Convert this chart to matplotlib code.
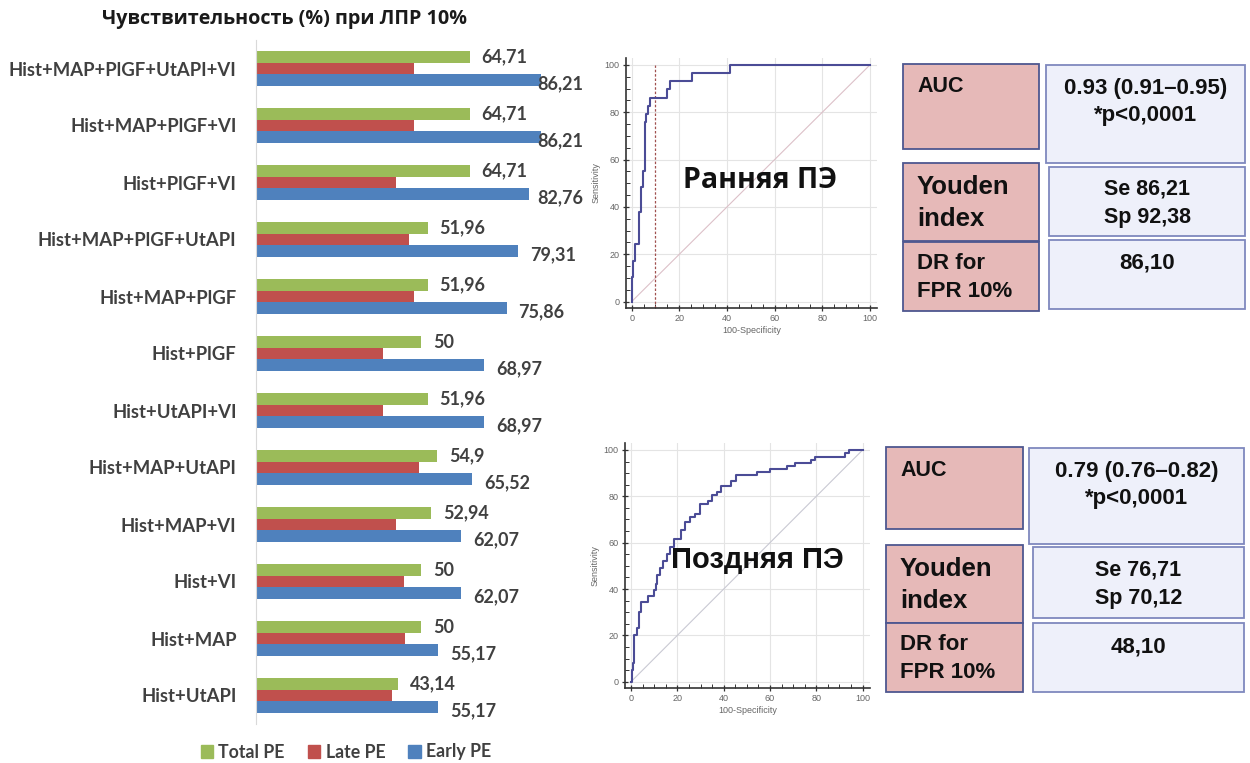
import matplotlib.pyplot as plt
from matplotlib.patches import Rectangle
from matplotlib.ticker import MultipleLocator
import matplotlib.transforms as mtransforms

W, H = 1250, 763

# --- bar chart data (sensitivity at FPR 10%) ---
models = ["Hist+MAP+PlGF+UtAPI+VI", "Hist+MAP+PlGF+VI", "Hist+PlGF+VI",
          "Hist+MAP+PlGF+UtAPI", "Hist+MAP+PlGF", "Hist+PlGF", "Hist+UtAPI+VI",
          "Hist+MAP+UtAPI", "Hist+MAP+VI", "Hist+VI", "Hist+MAP", "Hist+UtAPI"]
total_pe = [64.71, 64.71, 64.71, 51.96, 51.96, 50, 51.96, 54.9, 52.94, 50, 50, 43.14]
late_pe = [47.9, 47.9, 42.3, 46.3, 47.9, 38.3, 38.3, 49.2, 42.3, 44.7, 45.2, 41.2]
early_pe = [86.21, 86.21, 82.76, 79.31, 75.86, 68.97, 68.97, 65.52, 62.07, 62.07, 55.17, 55.17]

# --- ROC curves (100-Specificity, Sensitivity) ---
early_fpr = [0, 0, 0.5, 1.2, 3.0, 3.8, 4.8, 5.4, 6.0, 7.0, 7.6, 14.8, 16.3, 25.4, 41.4, 100]
early_tpr = [0, 10.34, 17.24, 24.14, 37.93, 48.28, 55.17, 75.86, 79.31, 82.76, 86.21,
             89.66, 93.10, 96.55, 100, 100]
late_fpr = [0, 0.5, 1.0, 1.4, 2.4, 3.3, 4.2, 7.2, 10.0, 10.8, 11.4, 12.5, 14.0, 15.7,
            16.8, 18.7, 21.6, 23.3, 25.5, 27.6, 29.8, 33.4, 34.8, 37.0, 38.8, 43.0,
            45.3, 54.2, 60.0, 67.2, 70.8, 77.6, 79.4, 92.4, 94.2, 100]
late_tpr = [0, 5, 8, 20, 23, 30, 34.5, 37, 39.5, 42, 46, 49, 52, 55, 58, 61.5, 65.5,
            69, 71, 72.5, 76.5, 78, 80.5, 82, 84.6, 86.5, 89, 90.5, 91.8, 93, 94.2,
            95.6, 97, 98.5, 100, 100]
diag = [0, 100]
fpr_cut = 10

# --- tables ---
row_names = ["AUC", "Youden\nindex", "DR for\nFPR 10%"]
early_vals = ["0.93 (0.91–0.95)\n*p<0,0001", "Se 86,21\nSp 92,38", "86,10"]
late_vals = ["0.79 (0.76–0.82)\n*p<0,0001", "Se 76,71\nSp 70,12", "48,10"]

GREEN, RED, BLUE = "#9BBB59", "#C0504D", "#4F81BD"
GREY_TXT = "#404040"
CAL = ["Lato", "DejaVu Sans"]
CYR = ["Open Sans", "DejaVu Sans"]
ARIAL = ["Liberation Sans", "DejaVu Sans"]


def box(x0, y0, x1, y1):
    return [x0 / W, 1 - y1 / H, (x1 - x0) / W, (y1 - y0) / H]


fig = plt.figure(figsize=(W / 100, H / 100), dpi=100)

# ================= bar chart =================
ax = fig.add_axes(box(256, 40, 583, 724))
y = list(range(len(models)))
h = 0.2
ax.barh([v - h for v in y], total_pe, height=h, color=GREEN, label="Total PE")
ax.barh(y, late_pe, height=h, color=RED, label="Late PE")
ax.barh([v + h for v in y], early_pe, height=h, color=BLUE, label="Early PE")
xmax = 99
ax.set_xlim(0, xmax)
ax.set_ylim(len(models) - 0.5, -0.5)
for s in ["top", "right", "bottom"]:
    ax.spines[s].set_visible(False)
ax.spines["left"].set_color("#D9D9D9")
ax.set_xticks([])
ax.set_yticks(y)
ax.set_yticklabels(models, fontfamily=CAL, fontweight="bold", fontsize=13.3, color=GREY_TXT)
ax.tick_params(axis="y", length=0, pad=14)

blend = mtransforms.blended_transform_factory(ax.transAxes, ax.transData)
for i in y:
    for val, yy in [(total_pe[i], i - h), (early_pe[i], i + h + 0.06)]:
        txt = f"{val:g}".replace(".", ",")
        if val + 17.5 > xmax:
            ax.text(1.0, yy, txt, transform=blend, ha="right", va="center",
                    fontfamily=CAL, fontweight="bold", fontsize=13, color=GREY_TXT)
        else:
            ax.annotate(txt, (val, yy), xytext=(8.6, 0), textcoords="offset points",
                        ha="left", va="center", fontfamily=CAL, fontweight="bold",
                        fontsize=13, color=GREY_TXT)

fig.text(284 / W, 1 - 19 / H, "Чувствительность (%) при ЛПР 10%", ha="center", va="center",
         fontfamily=CYR, fontweight="bold", fontsize=14.2, color="#1a1a1a")

handles = [Rectangle((0, 0), 1, 1, color=c) for c in (GREEN, RED, BLUE)]
fig.legend(handles, ["Total PE", "Late PE", "Early PE"], loc="center",
           bbox_to_anchor=(346 / W, 1 - 752 / H), ncol=3, frameon=False,
           handlelength=0.7, handleheight=0.7, handletextpad=0.3, columnspacing=1.3,
           prop={"family": CAL, "weight": "bold", "size": 12.8}, labelcolor=GREY_TXT)


# ================= ROC plots =================
def roc(rect, xlo, fpr, tpr, diag_color, cut=None):
    a = fig.add_axes(rect)
    a.set_xlim(xlo, 103)
    a.set_ylim(-2.7, 103)
    a.plot(diag, diag, color=diag_color, lw=0.8, zorder=2)
    if cut is not None:
        a.axvline(cut, ymax=(100 + 2.7) / 105.7, color="#A0504F", lw=0.9, ls=(0, (2, 1.5)), zorder=2)
    a.plot(fpr, tpr, drawstyle="steps-post", color="#4B4C96", lw=1.5, zorder=3)
    a.xaxis.set_minor_locator(MultipleLocator(5))
    a.yaxis.set_minor_locator(MultipleLocator(5))
    a.set_xticks([0, 20, 40, 60, 80, 100])
    a.set_yticks([0, 20, 40, 60, 80, 100])
    a.grid(True, which="major", color="#E4E4E4", lw=0.8)
    a.set_axisbelow(True)
    for s in ["top", "right"]:
        a.spines[s].set_visible(False)
    for s in ["left", "bottom"]:
        a.spines[s].set_color("#333333")
        a.spines[s].set_linewidth(1.2)
    a.tick_params(which="major", direction="inout", length=5, width=0.9, color="#333333",
                  labelsize=6.5, labelcolor="#666666", pad=2)
    a.tick_params(which="minor", direction="in", length=3, width=0.7, color="#333333")
    for lab in a.get_xticklabels() + a.get_yticklabels():
        lab.set_fontfamily(ARIAL)
    a.set_xlabel("100-Specificity", fontsize=6.5, color="#666666", fontfamily=ARIAL, labelpad=2)
    a.set_ylabel("Sensitivity", fontsize=6.5, color="#666666", fontfamily=ARIAL, labelpad=3)
    return a


roc(box(625.7, 57.9, 877, 308), -2.5, early_fpr, early_tpr, "#DCC0C8", cut=fpr_cut)
roc(box(625, 443, 869.6, 688), -2.6, late_fpr, late_tpr, "#C9C9D3")

fig.text(760 / W, 1 - 181 / H, "Ранняя ПЭ", ha="center", va="center",
         fontfamily=CYR, fontweight="bold", fontsize=20.5, color="#111111")
fig.text(757 / W, 1 - 560 / H, "Поздняя ПЭ", ha="center", va="center",
         fontfamily=ARIAL, fontweight="bold", fontsize=21, color="#111111")

# ================= tables =================
ov = fig.add_axes([0, 0, 1, 1])
ov.set_xlim(0, W)
ov.set_ylim(H, 0)
ov.axis("off")
ov.patch.set_alpha(0)

tables = [
    {"left": [(903, 64, 1039, 149), (903, 163, 1039, 241), (903, 242, 1039, 311)],
     "right": [(1046, 65, 1245, 163), (1049, 167, 1245, 236), (1049, 240, 1245, 309)],
     "vals": early_vals},
    {"left": [(886, 447, 1023, 529), (886, 545, 1023, 623), (886, 623, 1023, 692)],
     "right": [(1029, 448, 1244, 544), (1033, 547, 1244, 618), (1033, 623, 1244, 692)],
     "vals": late_vals},
]
name_sizes = [15.5, 18.5, 16]
for t in tables:
    for k, (x0, y0, x1, y1) in enumerate(t["left"]):
        ov.add_patch(Rectangle((x0, y0), x1 - x0, y1 - y0, facecolor="#E6B9B8",
                               edgecolor="#4E5790", lw=1.3))
        if k == 0:
            ov.text(x0 + 14, y0 + 23, row_names[k], ha="left", va="center", fontfamily=ARIAL,
                    fontweight="bold", fontsize=name_sizes[k], color="#111111")
        else:
            ov.text(x0 + 14, (y0 + y1) / 2 + 1, row_names[k], ha="left", va="center",
                    fontfamily=ARIAL, fontweight="bold", fontsize=name_sizes[k],
                    color="#111111", linespacing=1.4)
    for k, (x0, y0, x1, y1) in enumerate(t["right"]):
        ov.add_patch(Rectangle((x0, y0), x1 - x0, y1 - y0, facecolor="#EEF0FA",
                               edgecolor="#7F88BE", lw=1.3))
        cx = (x0 + x1) / 2
        if k == 1:
            ov.text(cx, (y0 + y1) / 2 + 2, t["vals"][k], ha="center", va="center",
                    fontfamily=ARIAL, fontweight="bold", fontsize=15.5, color="#111111",
                    linespacing=1.45)
        else:
            ov.text(cx, y0 + 13, t["vals"][k], ha="center", va="top", fontfamily=ARIAL,
                    fontweight="bold", fontsize=16, color="#111111", linespacing=1.35)

fig.savefig("out.png", dpi=100)
